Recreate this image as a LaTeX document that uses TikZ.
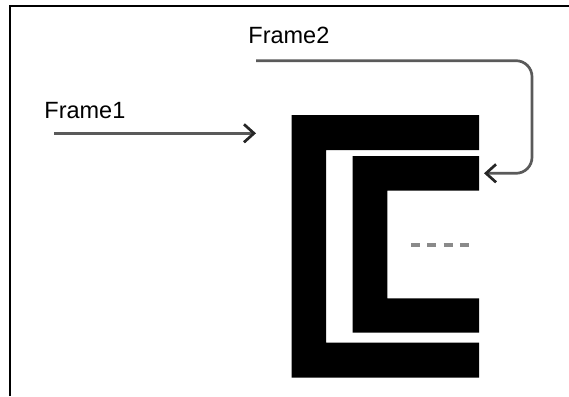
\documentclass[tikz,border=0pt]{standalone}
\usepackage{fontspec}
\setmainfont{Liberation Sans}
\usetikzlibrary{arrows.meta}
\definecolor{wire}{HTML}{5A5A5A}
\definecolor{dashgray}{HTML}{8A8A8A}

\begin{document}
\begin{tikzpicture}[x=1pt, y=-1pt, thick,
  wirearrow/.style={draw=wire, line width=2.7pt,
    -{Straight Barb[length=10pt, width=18pt, color=black!85]}},
  lbl/.style={anchor=base west, inner sep=0pt, font=\fontsize{23.5}{28}\selectfont}]
  \useasboundingbox (0,0) rectangle (569,396);
  % screenshot border, only top and left edges visible
  \draw[line width=1.5pt] (10,396) -- (10,6) -- (569,6);
  % outer frame
  \fill (291.7,115) -- (479,115) -- (479,150) -- (326,150) -- (326,342.7)
    -- (479,342.7) -- (479,377.7) -- (291.7,377.7) -- cycle;
  % inner frame
  \fill (352.7,156) -- (479,156) -- (479,190.7) -- (387.3,190.7) -- (387.3,298.3)
    -- (479,298.3) -- (479,332.7) -- (352.7,332.7) -- cycle;
  \draw[dashgray, line width=3.8pt, dash pattern=on 9pt off 7.3pt] (411,245.3) -- (471,245.3);
  % labels and arrows
  \node[lbl] (F1) at (44,118) {Frame1};
  \node[lbl] (F2) at (248,44) {Frame2};
  \coordinate (S1) at (54,133.3);
  \coordinate (E1) at (256,133.3);
  \coordinate (S2) at (256,60.7);
  \coordinate (E2) at (484,173.3);
  \draw[wirearrow] (S1) -- (E1);
  \draw[wirearrow, rounded corners=16pt] (S2) -- (532,60.7) -- (532,173.3) -- (E2);
\end{tikzpicture}
\end{document}
